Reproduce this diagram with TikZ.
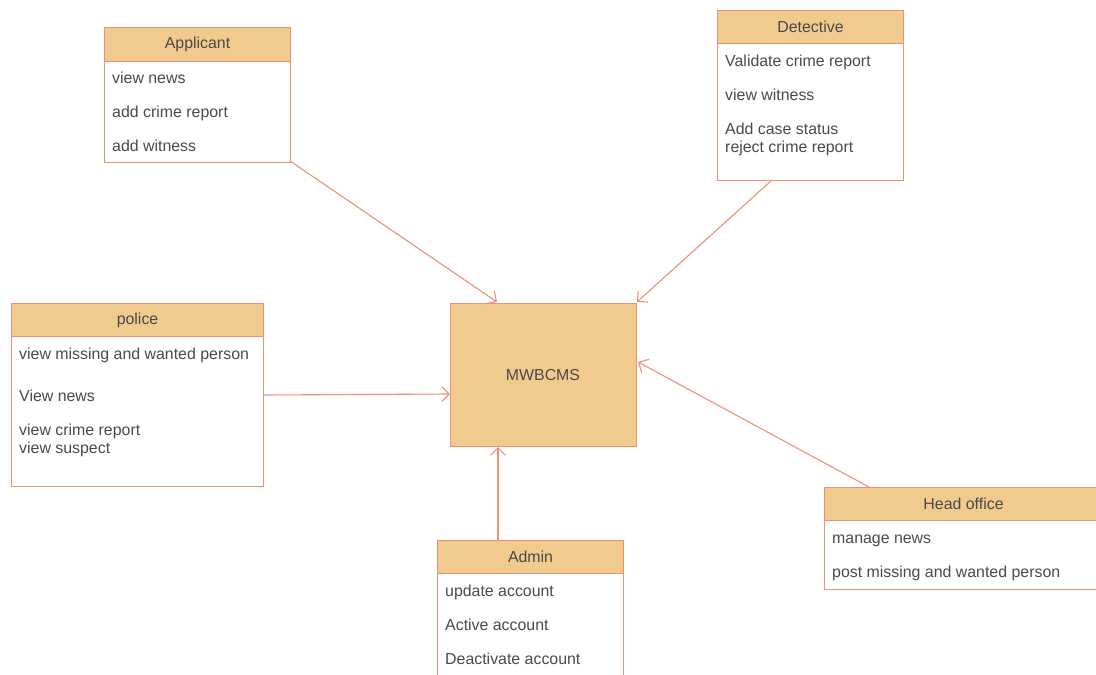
\documentclass[tikz,border=0pt]{standalone}
\usepackage{fontspec}
\setmainfont{Liberation Sans}
\usetikzlibrary{arrows.meta,calc}
\definecolor{edge}{HTML}{EE9078}
\definecolor{headfill}{HTML}{F1CB8E}
\definecolor{ink}{HTML}{4A4A4A}
\tikzset{
  head/.style={draw=edge, fill=headfill, line width=1.1pt, anchor=north west, inner sep=0pt,
    font=\fontsize{15.9}{18}\selectfont, text=ink},
  body/.style={draw=edge, fill=white, line width=1.1pt, anchor=north west, inner sep=0pt},
  item/.style={anchor=base west, inner sep=0pt, font=\fontsize{15.9}{18}\selectfont, text=ink},
  sysbox/.style={draw=edge, fill=headfill, line width=1.1pt, inner sep=0pt,
    font=\fontsize{15.9}{18}\selectfont, text=ink},
  link/.style={draw=edge, line width=1.1pt, -{Straight Barb[length=7.5pt,width=15pt,line width=1.1pt]}},
}
\begin{document}
\begin{tikzpicture}[x=1pt,y=-1pt]
\useasboundingbox (0,0) rectangle (1096,675);
\clip (0,0) rectangle (1096,675);
\fill[white] (0,0) rectangle (1096,675);

% central system
\node[sysbox, minimum width=186pt, minimum height=143pt, anchor=north west] (sys) at (450,303) {};
\node[item, anchor=base] (sysname) at (543,380.5) {MWBCMS};

% Applicant
\node[body, minimum width=186pt, minimum height=135pt] (appB) at (104,27) {};
\node[head, minimum width=186pt, minimum height=34pt] (appH) at (104,27) {Applicant};
\node[item] (app1) at (112,83.5) {view news};
\node[item] (app2) at (112,117.5) {add crime report};
\node[item] (app3) at (112,151.5) {add witness};

% Detective
\node[body, minimum width=186pt, minimum height=170pt] (detB) at (717,10) {};
\node[head, minimum width=186pt, minimum height=33pt] (detH) at (717,10) {Detective};
\node[item] (det1) at (725,66.5) {Validate crime report};
\node[item] (det2) at (725,100.5) {view witness};
\node[item] (det3) at (725,134.5) {Add case status};
\node[item] (det4) at (725,152.5) {reject crime report};

% police
\node[body, minimum width=252pt, minimum height=183pt] (polB) at (11,303) {};
\node[head, minimum width=252pt, minimum height=33pt] (polH) at (11,303) {police};
\node[item] (pol1) at (19,359.5) {view missing and wanted person};
\node[item] (pol2) at (19,401.5) {View news};
\node[item] (pol3) at (19,435.5) {view crime report};
\node[item] (pol4) at (19,453.5) {view suspect};

% Admin
\node[body, minimum width=186pt, minimum height=170pt] (admB) at (437,540) {};
\node[head, minimum width=186pt, minimum height=33pt] (admH) at (437,540) {Admin};
\node[item] (adm1) at (445,596.5) {update account};
\node[item] (adm2) at (445,630.5) {Active account};
\node[item] (adm3) at (445,664.5) {Deactivate account};

% Head office (runs past the right edge)
\node[body, minimum width=278pt, minimum height=102pt] (hoB) at (824,487) {};
\node[head, minimum width=278pt, minimum height=33pt] (hoH) at (824,487) {Head office};
\node[item] (ho1) at (832,543.5) {manage news};
\node[item] (ho2) at (832,577.5) {post missing and wanted person};

% connector ends
\coordinate (appS) at (290,161);
\coordinate (appT) at (497,302);
\coordinate (detS) at (772,180);
\coordinate (detT) at (637,302);
\coordinate (polS) at (263,395);
\coordinate (polT) at (450,394);
\coordinate (admS) at (498,540);
\coordinate (admT) at (498,447);
\coordinate (hoS) at (869,487);
\coordinate (hoT) at (638,362);

\draw[link] (appS) -- (appT);
\draw[link] (detS) -- (detT);
\draw[link] (polS) -- (polT);
\draw[link] (admS) -- (admT);
\draw[link] (hoS) -- (hoT);
\end{tikzpicture}
\end{document}
